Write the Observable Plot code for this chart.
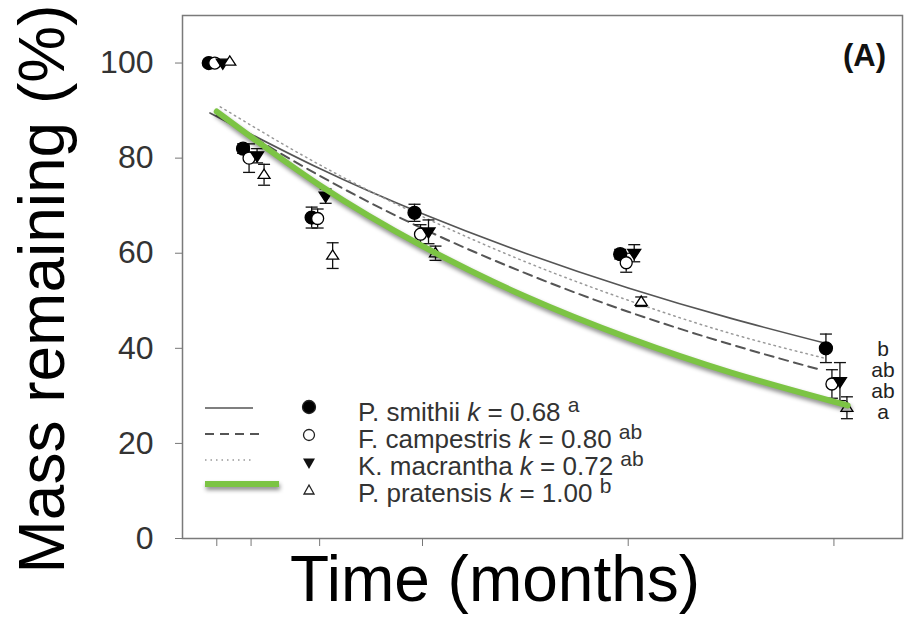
<!DOCTYPE html>
<html>
<head>
<meta charset="utf-8">
<script src="https://cdn.jsdelivr.net/npm/d3@7"></script>
<script src="https://cdn.jsdelivr.net/npm/@observablehq/plot@0.6"></script>
<style>
  html, body { margin: 0; padding: 0; background: #fff; }
  #chart svg { display: block; font-family: "Liberation Sans", Arial, sans-serif; }
  .shadowed { filter: drop-shadow(1px 3px 2px rgba(0,0,0,0.45)); }
</style>
</head>
<body>
<div id="chart"></div>
<script>
// ---- data ----
const times = [0, 1, 3, 6, 12, 18];
const species = ["P. smithii", "F. campestris", "K. macrantha", "P. pratensis"];
const kValues = ["0.68", "0.80", "0.72", "1.00"];
const legendLetters = ["a", "ab", "ab", "b"];
const endLetters = ["b", "ab", "ab", "a"];

const smithiiMean    = [100,   82,   67.5, 68.5, 59.8, 40.0];
const smithiiSE      = [0.5,   1.0,  2.2,  1.8,  1.0,  3.0];
const campestrisMean = [100,   80,   67.3, 64.0, 58.0, 32.5];
const campestrisSE   = [0.5,   3.0,  2.0,  2.0,  2.0,  3.0];
const macranthaMean  = [100,   80.5, 72.0, 64.5, 60.0, 33.0];
const macranthaSE    = [0.5,   1.5,  1.5,  2.5,  1.8,  4.0];
const pratensisMean  = [100.3, 76.5, 59.5, 60.0, 49.8, 27.5];
const pratensisSE    = [0.5,   2.2,  2.7,  1.5,  1.0,  2.3];

// fitted decay curves
const smithiiFitT    = [-0.2, 3, 6, 9, 12, 15, 17.9];
const smithiiFit     = [89.5, 77.8, 68.3, 60.0, 52.7, 46.3, 40.8];
const campestrisFitT = [0.0, 3, 6, 9, 12, 15, 17.6];
const campestrisFit  = [89.0, 76.3, 65.2, 55.8, 47.7, 40.8, 35.5];
const macranthaFitT  = [0.1, 3, 6, 9, 12, 15, 17.8];
const macranthaFit   = [90.8, 78.6, 67.7, 58.2, 50.1, 43.1, 37.8];
const pratensisFitT  = [0, 3, 6, 9, 12, 15, 18.4];
const pratensisFit   = [89.8, 74.3, 61.5, 50.9, 42.2, 34.9, 28.0];

// ---- build tables ----
const means = [smithiiMean, campestrisMean, macranthaMean, pratensisMean];
const ses = [smithiiSE, campestrisSE, macranthaSE, pratensisSE];
const pts = species.map((s, i) => times.map((t, j) => ({t, y: means[i][j], lo: means[i][j] - ses[i][j], hi: means[i][j] + ses[i][j]})));
const fitsT = [smithiiFitT, campestrisFitT, macranthaFitT, pratensisFitT];
const fitsY = [smithiiFit, campestrisFit, macranthaFit, pratensisFit];
const fits = species.map((s, i) => fitsT[i].map((t, j) => ({t, y: fitsY[i][j]})));

const dodge = [-8, -2, 6, 13];
const capSym = {draw(ctx, size) { const w = 6; ctx.moveTo(-w, 0); ctx.lineTo(w, 0); }};
const triDown = {draw(ctx, size) { const r = 6.5; ctx.moveTo(-r, -r*0.6); ctx.lineTo(r, -r*0.6); ctx.lineTo(0, r*0.95); ctx.closePath(); }};
const triUp = {draw(ctx, size) { const r = 6; ctx.moveTo(-r, r*0.6); ctx.lineTo(r, r*0.6); ctx.lineTo(0, -r*0.95); ctx.closePath(); }};
const markSym = ["circle", "circle", triDown, triUp];
const markFill = ["black", "white", "black", "white"];
const markR = [6.5, 6, 6.5, 6.5];

const marks = [Plot.frame({stroke: "#7a7a7a", strokeWidth: 1.5})];
marks.push(Plot.line(fits[0], {x: "t", y: "y", stroke: "#555", strokeWidth: 1.6, curve: "natural"}));
marks.push(Plot.line(fits[1], {x: "t", y: "y", stroke: "#555", strokeWidth: 2, strokeDasharray: "9,6", curve: "natural"}));
marks.push(Plot.line(fits[2], {x: "t", y: "y", stroke: "#999", strokeWidth: 1.5, strokeDasharray: "1.5,4", curve: "natural"}));
for (let i = 0; i < 4; i++) {
  const d = pts[i].filter(p => p.t > 0);
  marks.push(Plot.ruleX(d, {x: "t", y1: "lo", y2: "hi", dx: dodge[i], stroke: "#111", strokeWidth: 1.3}));
  marks.push(Plot.dot(d, {x: "t", y: "hi", dx: dodge[i], symbol: capSym, stroke: "#111", strokeWidth: 1.3}));
  marks.push(Plot.dot(d, {x: "t", y: "lo", dx: dodge[i], symbol: capSym, stroke: "#111", strokeWidth: 1.3}));
}
for (let i = 0; i < 4; i++) {
  marks.push(Plot.dot(pts[i], {x: "t", y: "y", dx: dodge[i], symbol: markSym[i], r: markR[i], fill: markFill[i], stroke: "black", strokeWidth: 1.3}));
}
marks.push(Plot.line(fits[3], {x: "t", y: "y", stroke: "#7cc444", strokeWidth: 6, curve: "natural", className: "shadowed"}));
marks.push(Plot.axisY({ticks: [0, 20, 40, 60, 80, 100], tickSize: 7, tickPadding: 22, fontSize: 32, label: null, stroke: "#777", color: "#333"}));
marks.push(Plot.axisX({ticks: times, tickSize: 8, tickFormat: () => "", label: null, stroke: "#777"}));

const plot = Plot.plot({
  width: 904, height: 617,
  marginLeft: 182, marginRight: 2, marginTop: 15, marginBottom: 79,
  x: {domain: [-1, 20]},
  y: {domain: [0, 110]},
  marks
});
document.getElementById("chart").appendChild(plot);

// ---- annotations: titles, legend, letters ----
const svg = d3.select(plot);
const font = "Liberation Sans, Arial, sans-serif";
svg.append("text").attr("transform", "translate(64,289) rotate(-90)").attr("text-anchor", "middle")
  .attr("font-size", 64).attr("font-family", font).attr("fill", "#000").text("Mass remaining (%)");
svg.append("text").attr("x", 495).attr("y", 601).attr("text-anchor", "middle")
  .attr("font-size", 64).attr("font-family", font).attr("fill", "#000").text("Time (months)");
svg.append("text").attr("x", 886).attr("y", 66).attr("text-anchor", "end")
  .attr("font-size", 31).attr("font-weight", "bold").attr("font-family", font).attr("fill", "#111").text("(A)");

const lineY = [408, 434, 460, 484];
const markY = [407, 435, 463, 490];
const textY = [421, 448, 475, 502];
const lg = svg.append("g");
const lineStyles = [
  {stroke: "#555", w: 1.6, dash: null, x2: 253},
  {stroke: "#555", w: 2, dash: "9,6", x2: 259},
  {stroke: "#999", w: 1.5, dash: "1.5,4", x2: 251},
  {stroke: "#7cc444", w: 6, dash: null, x2: 279}
];
species.forEach((s, i) => {
  const ls = lineStyles[i];
  const ln = lg.append("line").attr("x1", 205).attr("x2", ls.x2).attr("y1", lineY[i]).attr("y2", lineY[i])
    .attr("stroke", ls.stroke).attr("stroke-width", ls.w);
  if (ls.dash) ln.attr("stroke-dasharray", ls.dash);
  if (i === 3) ln.attr("class", "shadowed");
  if (i < 2) {
    lg.append("circle").attr("cx", 309).attr("cy", markY[i]).attr("r", i === 0 ? 6.5 : 5.5)
      .attr("fill", markFill[i]).attr("stroke", "#222").attr("stroke-width", 1.3);
  } else if (i === 2) {
    lg.append("path").attr("d", "M-6,-4.5L6,-4.5L0,6Z").attr("transform", `translate(309,${markY[i]})`).attr("fill", "#111");
  } else {
    lg.append("path").attr("d", "M-5,4L5,4L0,-5Z").attr("transform", `translate(309,${markY[i]})`)
      .attr("fill", "white").attr("stroke", "#222").attr("stroke-width", 1.3);
  }
  const t = lg.append("text").attr("x", 358).attr("y", textY[i]).attr("text-anchor", "start")
    .attr("font-size", 26).attr("font-family", font).attr("fill", "#333");
  t.append("tspan").text(s + " ");
  t.append("tspan").attr("font-style", "italic").text("k");
  t.append("tspan").text(" = " + kValues[i] + " ");
  t.append("tspan").attr("font-size", 21).attr("dy", -9).text(legendLetters[i]);
});

const endY = [356, 377, 398, 419];
endLetters.forEach((l, i) => {
  svg.append("text").attr("x", 883).attr("y", endY[i]).attr("text-anchor", "middle")
    .attr("font-size", 21).attr("font-family", font).attr("fill", "#222").text(l);
});
</script>
</body>
</html>
